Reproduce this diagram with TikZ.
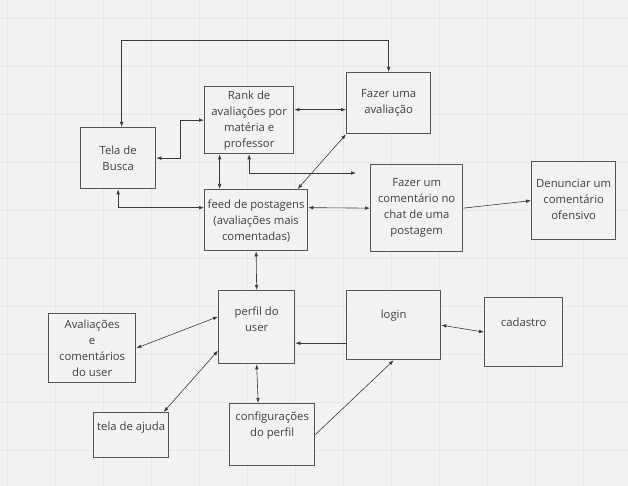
\documentclass[tikz,border=0pt]{standalone}
\usepackage{fontspec}
\setmainfont{Open Sans}
\usetikzlibrary{arrows.meta}
\definecolor{fundo}{HTML}{F2F2F2}
\definecolor{grade}{HTML}{E7E7E7}
\definecolor{borda}{HTML}{555555}
\definecolor{linha}{HTML}{3A3A3A}
\definecolor{texto}{HTML}{404040}
\tikzset{%
  caixa/.style={draw=borda,line width=1.3pt,fill=fundo,anchor=north west,inner sep=0pt},
  rotulo/.style={align=center,text=texto,inner sep=0pt,
    font=\fontsize{11.3}{16}\selectfont},
  liga/.style={draw=linha,line width=0.6pt,{Latex[length=5pt,width=3.6pt]}-{Latex[length=5pt,width=3.6pt]}},
  vai/.style={draw=linha,line width=0.6pt,-{Latex[length=5pt,width=3.6pt]}},
}
% box from (x1,y1) to (x2,y2), text moved up by #6
\newcommand{\Caixa}[7]{%
  \node[caixa,minimum width={#4-#2},minimum height={#5-#3}] (#1) at (#2,#3) {};
  \node[rotulo] (#1-t) at ([yshift=#6pt]#1.center) {#7};
}

\begin{document}
\begin{tikzpicture}[x=1pt,y=-1pt]
  \useasboundingbox (0,0) rectangle (628,486);
  \fill[fundo] (0,0) rectangle (628,486);
  % grid
  \foreach \g in {0,...,12} {
    \draw[grade,line width=0.7pt] ({7.7+48*\g},0) -- ++(0,486);
  }
  \foreach \g in {0,...,9} {
    \draw[grade,line width=0.7pt] (0,{18.3+48*\g}) -- ++(628,0);
  }
  % boxes
  \Caixa{busca}{80}{127}{155}{188}{0}{Tela de\\Busca}
  \Caixa{rank}{204}{86}{293}{153}{0}{Rank de\\avaliações por\\matéria e\\professor}
  \Caixa{fazer}{346}{72}{430}{133}{0}{Fazer uma\\avaliação}
  \Caixa{feed}{204}{189}{307}{250}{-1}{feed de postagens\\(avaliações mais\\comentadas)}
  \Caixa{coment}{370}{164}{462}{251}{0}{Fazer um\\comentário no\\chat de uma\\postagem}
  \Caixa{denuncia}{531}{161}{615}{239}{1}{Denunciar um\\comentário\\ofensivo}
  \Caixa{perfil}{218}{290}{294}{363}{8}{perfil do\\user}
  \Caixa{login}{346}{290}{440}{359}{10}{login}
  \Caixa{cadastro}{484}{297}{562}{366}{10}{cadastro}
  \Caixa{avals}{48}{313}{135}{382}{0}{Avaliações\\e\\comentários\\do user}
  \Caixa{ajuda}{93}{412}{168}{457}{8}{tela de ajuda}
  \Caixa{config}{229}{403}{314}{465}{9}{configurações\\do perfil}
  % connectors
  \coordinate (topo) at (0,40);
  \coordinate (solta) at (356,173);
  \draw[liga] ([xshift=3.5pt]busca.north) -- ([xshift=3.5pt]busca.north |- topo) -| (fazer.north);
  \draw[liga] (busca.east) -- ++(24,0) |- (rank.west);
  \draw[liga] ([yshift=10.5pt]rank.east) -- ([yshift=-6.5pt]fazer.west);
  \draw[liga] ([xshift=-29.5pt]rank.south) -- ([xshift=-36.5pt]feed.north);
  \draw[liga] (rank.south) |- (solta);
  \draw[liga] ([xshift=41.5pt]feed.north) -- (fazer.south west);
  \draw[liga] (busca.south) |- ([yshift=12.5pt]feed.west);
  \draw[liga] ([yshift=12.5pt]feed.east) -- (coment.west);
  \draw[vai] (coment.east) -- (denuncia.west);
  \draw[liga] (feed.south) -- (perfil.north);
  \draw[liga] ([yshift=10.5pt]perfil.west) -- (avals.east);
  \draw[liga] ([yshift=-23.5pt]perfil.west) -- ([xshift=32.5pt]ajuda.north);
  \draw[liga] (perfil.south) -- ([xshift=-14pt]config.north);
  \draw[vai] ([yshift=-18pt]login.west) -- ([yshift=-16pt]perfil.east);
  \draw[vai] (config.east) -- (login.south);
  \draw[liga] (login.east) -- (cadastro.west);
\end{tikzpicture}
\end{document}
